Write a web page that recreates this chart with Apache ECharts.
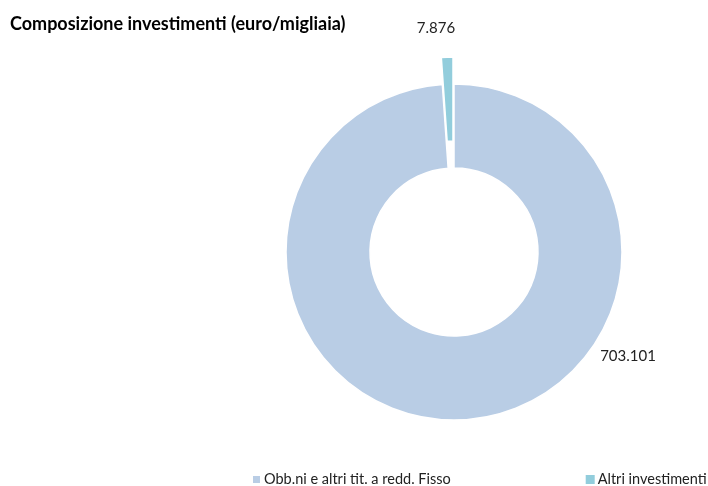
<!DOCTYPE html>
<html>
<head>
<meta charset="utf-8">
<script src="https://cdn.jsdelivr.net/npm/echarts@6/dist/echarts.min.js"></script>
<style>
  html, body { margin: 0; padding: 0; background: #fff; }
  #chart { width: 708px; height: 486px; }
</style>
</head>
<body>
<div id="chart"></div>
<script>
const categories = ['Obb.ni e altri tit. a redd. Fisso', 'Altri investimenti'];
const values = [703101, 7876];
const valueLabels = ['703.101', '7.876'];
const colors = ['#B9CDE5', '#92CDDC'];

const chart = echarts.init(document.getElementById('chart'));

// Excel puts the labels at fixed spots, not at the slice middles
const labelSpots = [[628, 356], [436, 28]];

// one ring per slice so the small one can be pulled out (exploded) on its own
function ring(visibleIdx, center) {
  return {
    type: 'pie',
    center: center,
    radius: [84, 168],
    startAngle: 90,
    clockwise: true,
    silent: true,
    label: {
      fontSize: 15,
      color: '#222',
      formatter: p => valueLabels[p.dataIndex]
    },
    labelLine: { show: false },
    labelLayout: p => ({ x: labelSpots[p.dataIndex][0], y: labelSpots[p.dataIndex][1], align: 'center', verticalAlign: 'middle' }),
    emphasis: { disabled: true },
    data: categories.map((c, i) => ({
      name: c,
      value: values[i],
      label: { show: i === visibleIdx },
      itemStyle: i === visibleIdx
        ? { color: colors[i], borderColor: '#fff', borderWidth: 1.5 }
        : { color: 'rgba(0,0,0,0)', borderWidth: 0 }
    }))
  };
}

chart.setOption({
  animation: false,
  textStyle: { fontFamily: 'Lato' },
  title: {
    text: 'Composizione investimenti (euro/migliaia)',
    left: 5, top: 10,
    textStyle: { fontSize: 18, fontWeight: 'bold', color: '#000', fontFamily: 'Lato' }
  },
  legend: {
    top: 472,
    left: 251,
    width: 600,
    padding: 0,
    itemWidth: 9, itemHeight: 9,
    itemGap: 135,
    icon: 'rect',
    textStyle: { fontSize: 14.5, color: '#222', padding: [0, 0, 0, -2] },
    data: categories.map((c, i) => ({ name: c, itemStyle: { color: colors[i] } }))
  },
  series: [
    ring(0, [454, 252]),
    ring(1, [453, 225])
  ]
});
</script>
</body>
</html>
